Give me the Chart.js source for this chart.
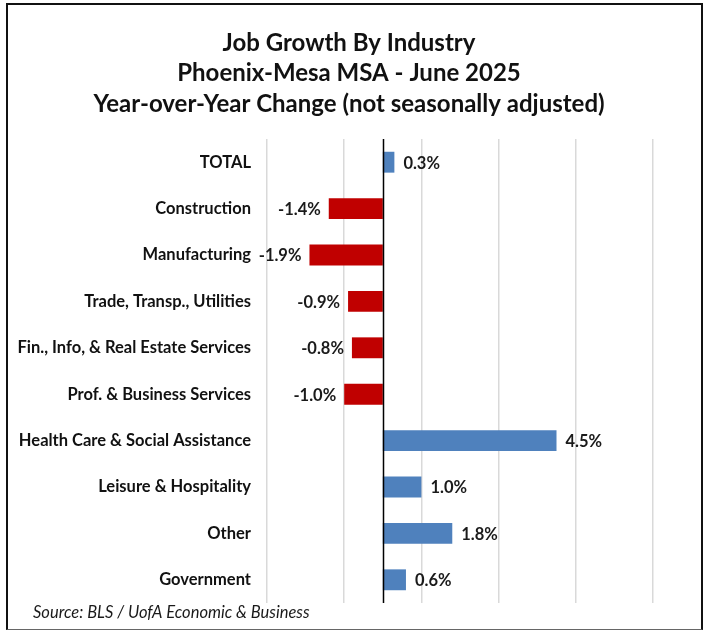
<!DOCTYPE html>
<html>
<head>
<meta charset="utf-8">
<script src="https://cdn.jsdelivr.net/npm/chart.js@4/dist/chart.umd.min.js"></script>
<style>
  html, body { margin: 0; padding: 0; background: #fff; }
  #wrap { position: absolute; left: 0; top: 0; width: 706px; height: 631px; }
  #frame {
    position: absolute; left: 6px; top: 3px; width: 697px; height: 627px;
    box-sizing: border-box; border: 2px solid #111; border-bottom: 1px solid #666;
    pointer-events: none;
  }
</style>
</head>
<body>
<div id="wrap">
  <canvas id="c" width="706" height="631"></canvas>
  <div id="frame"></div>
</div>
<script>
// Industry categories (top to bottom)
const industries = [
  'TOTAL',
  'Construction',
  'Manufacturing',
  'Trade, Transp., Utilities',
  'Fin., Info, & Real Estate Services',
  'Prof. & Business Services',
  'Health Care & Social Assistance',
  'Leisure & Hospitality',
  'Other',
  'Government'
];

// Year-over-year change, percent
const growth = [0.3, -1.4, -1.9, -0.9, -0.8, -1.0, 4.5, 1.0, 1.8, 0.6];

// Gridline positions on the value axis
const gridTicks = [-3, -1, 1, 3, 5, 7];

const titleLines = [
  'Job Growth By Industry',
  'Phoenix-Mesa MSA - June 2025',
  'Year-over-Year Change (not seasonally adjusted)'
];
const sourceNote = 'Source: BLS / UofA Economic & Business';

const FONT = 'Lato, "Open Sans", sans-serif';
const POS = '#4F81BD';
const NEG = '#C00000';

// Three-line bold title centred over the frame
const titleBlock = {
  id: 'titleBlock',
  afterDraw(chart) {
    const ctx = chart.ctx;
    ctx.save();
    ctx.font = 'bold 24px ' + FONT;
    ctx.fillStyle = '#111';
    ctx.textAlign = 'center';
    ctx.textBaseline = 'middle';
    titleLines.forEach((line, i) => ctx.fillText(line, 349, 43 + i * 30.5));
    ctx.restore();
  }
};

// Bold value labels at the end of each bar
const valueLabels = {
  id: 'valueLabels',
  afterDatasetsDraw(chart) {
    const ctx = chart.ctx;
    const meta = chart.getDatasetMeta(0);
    ctx.save();
    ctx.font = 'bold 16.5px ' + FONT;
    ctx.fillStyle = '#1a1a1a';
    ctx.textBaseline = 'middle';
    meta.data.forEach((bar, i) => {
      const v = growth[i];
      const txt = v.toFixed(1) + '%';
      if (v >= 0) {
        ctx.textAlign = 'left';
        ctx.fillText(txt, bar.x + 9, bar.y + 1);
      } else {
        ctx.textAlign = 'right';
        ctx.fillText(txt, bar.x - 8, bar.y + 1);
      }
    });
    ctx.restore();
  }
};

// Black zero line across the plot
const zeroLine = {
  id: 'zeroLine',
  afterDatasetsDraw(chart) {
    const { ctx, chartArea, scales } = chart;
    const x = Math.round(scales.x.getPixelForValue(0)) + 0.5;
    ctx.save();
    ctx.strokeStyle = '#000';
    ctx.lineWidth = 1.5;
    ctx.beginPath();
    ctx.moveTo(x, chartArea.top);
    ctx.lineTo(x, chartArea.bottom);
    ctx.stroke();
    ctx.restore();
  }
};

// Source note in the lower-left corner
const sourceText = {
  id: 'sourceText',
  afterDraw(chart) {
    const ctx = chart.ctx;
    ctx.save();
    ctx.font = 'italic 16.5px ' + FONT;
    ctx.fillStyle = '#1a1a1a';
    ctx.textAlign = 'left';
    ctx.textBaseline = 'middle';
    ctx.fillText(sourceNote, 33, 613);
    ctx.restore();
  }
};

new Chart(document.getElementById('c'), {
  type: 'bar',
  data: {
    labels: industries,
    datasets: [{
      data: growth,
      backgroundColor: growth.map(v => v >= 0 ? POS : NEG),
      borderWidth: 0,
      categoryPercentage: 0.5,
      barPercentage: 0.9
    }]
  },
  options: {
    indexAxis: 'y',
    responsive: false,
    animation: false,
    devicePixelRatio: 1,
    layout: { padding: { left: 0, right: 53, top: 139, bottom: 28 } },
    plugins: {
      legend: { display: false },
      tooltip: { enabled: false },
      title: { display: false }
    },
    scales: {
      x: {
        type: 'linear',
        min: -3,
        max: 7,
        afterBuildTicks(scale) {
          scale.ticks = gridTicks.map(v => ({ value: v }));
        },
        ticks: { display: false },
        grid: { color: '#d9d9d9', lineWidth: 1.5, drawTicks: false },
        border: { display: false }
      },
      y: {
        afterFit(scale) { scale.width = 267; },
        ticks: {
          color: '#111',
          padding: 16,
          font: { family: FONT, size: 16.5, weight: 'bold' }
        },
        grid: { display: false, drawTicks: false },
        border: { display: false }
      }
    }
  },
  plugins: [zeroLine, valueLabels, sourceText, titleBlock]
});
</script>
</body>
</html>
